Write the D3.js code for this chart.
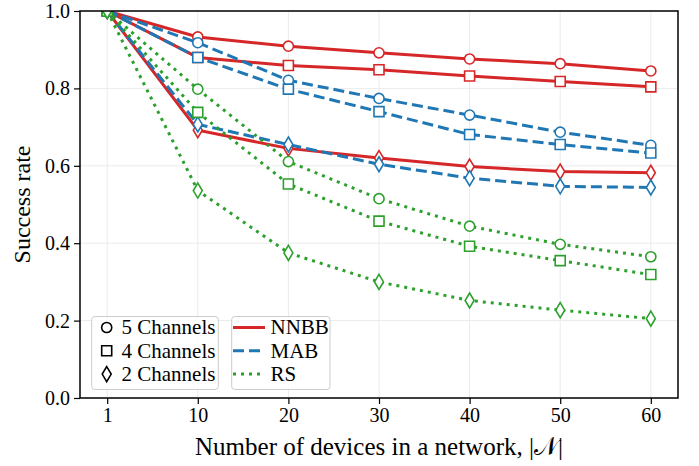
<!DOCTYPE html>
<html>
<head>
<meta charset="utf-8">
<script src="https://cdn.jsdelivr.net/npm/d3@7"></script>
<style>
  html, body { margin: 0; padding: 0; background: #fff; }
  svg { display: block; }
</style>
</head>
<body>
<svg id="chart" width="699" height="466" font-family="'Liberation Serif', 'Times New Roman', serif"></svg>
<script>
// Network sizes on the x axis (equally spaced categories)
const deviceCounts = ["1", "10", "20", "30", "40", "50", "60"];
const yTicks = [0, 0.2, 0.4, 0.6, 0.8, 1.0];

// Success rate per algorithm and channel count
const nnbb5 = [1.0, 0.933, 0.909, 0.892, 0.876, 0.864, 0.845];
const nnbb4 = [1.0, 0.880, 0.859, 0.848, 0.832, 0.818, 0.804];
const nnbb2 = [1.0, 0.692, 0.645, 0.620, 0.598, 0.585, 0.582];
const mab5  = [1.0, 0.918, 0.821, 0.774, 0.731, 0.687, 0.653];
const mab4  = [1.0, 0.880, 0.798, 0.740, 0.681, 0.655, 0.633];
const mab2  = [1.0, 0.707, 0.655, 0.604, 0.568, 0.547, 0.544];
const rs5   = [1.0, 0.798, 0.611, 0.515, 0.444, 0.397, 0.365];
const rs4   = [1.0, 0.738, 0.553, 0.457, 0.392, 0.355, 0.319];
const rs2   = [1.0, 0.536, 0.375, 0.300, 0.252, 0.227, 0.205];

const algorithms = ["NNBB", "MAB", "RS"];
const channelLabels = ["5 Channels", "4 Channels", "2 Channels"];

const colors = { NNBB: "#d62728", MAB: "#1f77b4", RS: "#2ca02c" };
const dashes = { NNBB: null, MAB: "11,5", RS: "3,5" };
const SERIF = "'Liberation Serif', 'Times New Roman', serif";

// Thin diamond marker
const thinDiamond = {
  draw(ctx, size) {
    const h = Math.sqrt(size) * 0.75, w = h * 0.6;
    ctx.moveTo(0, -h); ctx.lineTo(w, 0); ctx.lineTo(0, h); ctx.lineTo(-w, 0); ctx.closePath();
  }
};
const markers = {
  "5 Channels": d3.symbol(d3.symbolCircle, 80),
  "4 Channels": d3.symbol(d3.symbolSquare, 100),
  "2 Channels": d3.symbol(thinDiamond, 100)
};

const series = [
  { alg: "NNBB", ch: "5 Channels", values: nnbb5 },
  { alg: "NNBB", ch: "4 Channels", values: nnbb4 },
  { alg: "NNBB", ch: "2 Channels", values: nnbb2 },
  { alg: "MAB",  ch: "5 Channels", values: mab5 },
  { alg: "MAB",  ch: "4 Channels", values: mab4 },
  { alg: "MAB",  ch: "2 Channels", values: mab2 },
  { alg: "RS",   ch: "5 Channels", values: rs5 },
  { alg: "RS",   ch: "4 Channels", values: rs4 },
  { alg: "RS",   ch: "2 Channels", values: rs2 }
];

const svg = d3.select("#chart");
const plot = { left: 80, right: 678, top: 11, bottom: 398 };

const x = d3.scalePoint().domain(deviceCounts).range([plot.left, plot.right]).padding(0.3);
const y = d3.scaleLinear().domain([0, 1]).range([plot.bottom, plot.top]);

svg.append("defs").append("clipPath").attr("id", "plotClip")
  .append("rect")
  .attr("x", plot.left).attr("y", plot.top)
  .attr("width", plot.right - plot.left).attr("height", plot.bottom - plot.top);

// Grid
const grid = svg.append("g");
grid.selectAll("line.gx").data(deviceCounts).join("line")
  .attr("x1", d => x(d)).attr("x2", d => x(d))
  .attr("y1", plot.top).attr("y2", plot.bottom)
  .attr("stroke", "#ebebeb").attr("stroke-width", 1);
grid.selectAll("line.gy").data(yTicks).join("line")
  .attr("x1", plot.left).attr("x2", plot.right)
  .attr("y1", d => y(d)).attr("y2", d => y(d))
  .attr("stroke", "#ebebeb").attr("stroke-width", 1);

// Series lines and markers
const line = d3.line().x((d, i) => x(deviceCounts[i])).y(d => y(d));
const data = svg.append("g").attr("clip-path", "url(#plotClip)");
series.forEach(s => {
  const g = data.append("g");
  g.append("path")
    .attr("d", line(s.values))
    .attr("fill", "none")
    .attr("stroke", colors[s.alg])
    .attr("stroke-width", 3)
    .attr("stroke-dasharray", dashes[s.alg]);
  g.selectAll("path.m").data(s.values).join("path")
    .attr("class", "m")
    .attr("transform", (d, i) => `translate(${x(deviceCounts[i])},${y(d)})`)
    .attr("d", markers[s.ch]())
    .attr("fill", "#fff")
    .attr("stroke", colors[s.alg])
    .attr("stroke-width", 1.6);
});

// Axes
const xAxis = svg.append("g").attr("transform", `translate(0,${plot.bottom})`)
  .call(d3.axisBottom(x).tickSize(6).tickSizeOuter(0).tickPadding(4));
const yAxis = svg.append("g").attr("transform", `translate(${plot.left},0)`)
  .call(d3.axisLeft(y).tickValues(yTicks).tickFormat(d3.format(".1f")).tickSize(6).tickSizeOuter(0).tickPadding(4));
[xAxis, yAxis].forEach(a => {
  a.attr("font-family", SERIF).attr("font-size", 20);
  a.select(".domain").remove();
  a.selectAll(".tick line").attr("stroke", "#000").attr("stroke-width", 1.2);
  a.selectAll(".tick text").attr("font-family", SERIF).style("font-family", SERIF)
    .style("font-size", "20px").attr("fill", "#000");
});

// Frame
svg.append("rect")
  .attr("x", plot.left).attr("y", plot.top)
  .attr("width", plot.right - plot.left).attr("height", plot.bottom - plot.top)
  .attr("fill", "none").attr("stroke", "#000").attr("stroke-width", 1.5);

// Axis titles
svg.append("text")
  .attr("x", (plot.left + plot.right) / 2).attr("y", 455)
  .attr("text-anchor", "middle").style("font-family", SERIF).style("font-size", "25px")
  .text("Number of devices in a network, |𝒩|");
svg.append("text")
  .attr("transform", `translate(30,${(plot.top + plot.bottom) / 2}) rotate(-90)`)
  .attr("text-anchor", "middle").style("font-family", SERIF).style("font-size", "24px")
  .text("Success rate");

// Legends
function legendBox(x0, x1) {
  svg.append("rect")
    .attr("x", x0).attr("y", 316.5).attr("width", x1 - x0).attr("height", 73)
    .attr("rx", 3).attr("fill", "#fff").attr("fill-opacity", 0.8)
    .attr("stroke", "#cccccc").attr("stroke-width", 1);
}
const rowY = i => 327.5 + i * 23.3;

legendBox(91.7, 218.3);
channelLabels.forEach((c, i) => {
  svg.append("path")
    .attr("transform", `translate(106.7,${rowY(i)})`)
    .attr("d", markers[c]())
    .attr("fill", "#fff").attr("stroke", "#000").attr("stroke-width", 1.6);
  svg.append("text").attr("x", 121.5).attr("y", rowY(i)).attr("dy", "0.33em")
    .style("font-family", SERIF).style("font-size", "21px").text(c);
});

legendBox(231.7, 330);
algorithms.forEach((a, i) => {
  svg.append("line")
    .attr("x1", 233).attr("x2", 265).attr("y1", rowY(i)).attr("y2", rowY(i))
    .attr("stroke", colors[a]).attr("stroke-width", 3)
    .attr("stroke-dasharray", dashes[a]);
  svg.append("text").attr("x", 270.5).attr("y", rowY(i)).attr("dy", "0.33em")
    .style("font-family", SERIF).style("font-size", "21px").text(a);
});
</script>
</body>
</html>
